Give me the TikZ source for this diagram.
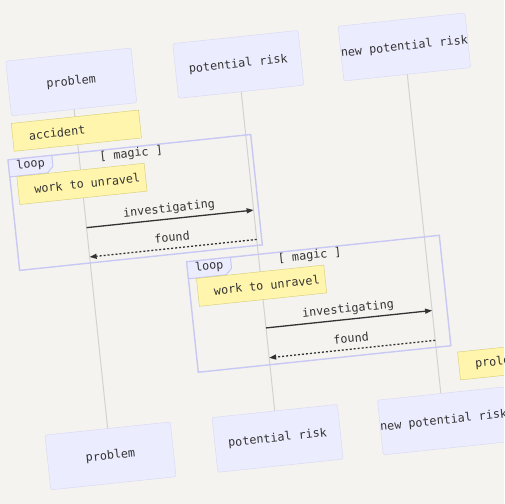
\documentclass[tikz,border=0pt]{standalone}
\usepackage{fontspec}
\setmonofont{DejaVu Sans Mono}
\usetikzlibrary{arrows.meta}
\definecolor{bgpaper}{HTML}{F4F3F0}
\definecolor{actorfill}{HTML}{ECECFF}
\definecolor{actorline}{HTML}{D6D6F4}
\definecolor{loopline}{HTML}{C8C8F4}
\definecolor{notefill}{HTML}{FFF5AD}
\definecolor{noteline}{HTML}{D4CB70}
\definecolor{lifegrey}{HTML}{D2D2D2}
\definecolor{inkgrey}{HTML}{333333}
\begin{document}
\begin{tikzpicture}[x=1bp,y=1bp,
  every node/.style={font=\ttfamily\fontsize{11.8}{13}\selectfont, text=inkgrey},
  actor/.style={draw=actorline, fill=actorfill, rounded corners=2bp, minimum width=126bp, minimum height=55bp, inner sep=0pt},
  note/.style={draw=noteline, fill=notefill, minimum width=128bp, minimum height=28bp},
  notetext/.style={anchor=west, inner sep=0pt},
  lifeline/.style={draw=lifegrey, line width=1bp},
  loopframe/.style={draw=loopline, line width=1.4bp},
  looptab/.style={draw=loopline, fill=actorfill, line width=1bp},
  msg/.style={draw=inkgrey, line width=1.3bp, -{Triangle[length=7bp,width=5bp]}},
  reply/.style={msg, dash pattern=on 2bp off 2bp},
  msglabel/.style={midway, above, inner sep=4bp, text height=8bp, text depth=2bp}]
\fill[bgpaper] (0,0) rectangle (504,504);
\useasboundingbox (0,0) rectangle (504,504);
\clip (0,0) rectangle (504,504);
\begin{scope}[shift={(252,252)}, rotate=6, transform shape]
\node[actor] (problemTop) at (-162,188) {problem};
\node[actor] (riskTop) at (6,188) {potential risk};
\node[actor] (newriskTop) at (173,188) {new potential risk};
\node[actor] (problemBot) at (-162,-188) {problem};
\node[actor] (riskBot) at (6,-188) {potential risk};
\node[actor] (newriskBot) at (173,-188) {new potential risk};
\draw[lifeline] (problemTop) -- (problemBot);
\draw[lifeline] (riskTop) -- (riskBot);
\draw[lifeline] (newriskTop) -- (newriskBot);
\node[note] (accident) at (-162,139) {};
\node[notetext] (accidentText) at (-210,139) {accident};
\draw[loopframe] (-233,6) rectangle (11,117);
\draw[looptab] (-233,117) -- (-189,117) -- (-189,106) -- (-195,100) -- (-233,100) -- cycle;
\node (loopA) at (-211,110) {loop};
\node (magicA) at (-110,110) {[ magic ]};
\node[note] (unravelA) at (-162,85.5) {};
\node[notetext] (unravelAText) at (-210,85.5) {work to unravel};
\coordinate (invAfrom) at (-162,41.5);
\coordinate (invAto) at (6,41.5);
\coordinate (fndAfrom) at (6,12);
\coordinate (fndAto) at (-162,12);
\draw[msg] (invAfrom) -- node[msglabel] (invAlabel) {investigating} (invAto);
\draw[reply] (fndAfrom) -- node[msglabel] (fndAlabel) {found} (fndAto);
\draw[loopframe] (-66,-114) rectangle (188,-3);
\draw[looptab] (-66,-3) -- (-22,-3) -- (-22,-14) -- (-28,-20) -- (-66,-20) -- cycle;
\node (loopB) at (-44,-10) {loop};
\node (magicB) at (57,-10) {[ magic ]};
\node[note] (unravelB) at (6,-34.5) {};
\node[notetext] (unravelBText) at (-42,-34.5) {work to unravel};
\coordinate (invBfrom) at (6,-77);
\coordinate (invBto) at (173,-77);
\coordinate (fndBfrom) at (173,-107);
\coordinate (fndBto) at (6,-107);
\draw[msg] (invBfrom) -- node[msglabel] (invBlabel) {investigating} (invBto);
\draw[reply] (fndBfrom) -- node[msglabel] (fndBlabel) {found} (fndBto);
\node[note] (prolong) at (258,-135) {};
\node[notetext] (prolongText) at (210,-135) {prolo};
\end{scope}
\end{tikzpicture}
\end{document}
